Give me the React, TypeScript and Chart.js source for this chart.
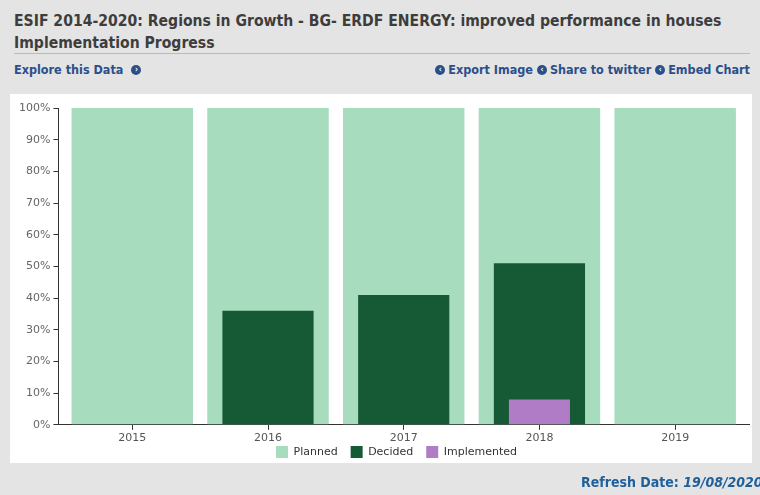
import React, { useEffect, useRef } from "react";
import { Chart, registerables } from "chart.js";

Chart.register(...registerables);

const categories = ["2015", "2016", "2017", "2018", "2019"];
const planned = [100, 100, 100, 100, 100];
const decided = [0, 36, 41, 51, 0];
const implemented = [0, 0, 0, 8, 0];
const yStep = 10;

const FONT = "'DejaVu Sans', Verdana, sans-serif";
const COND = "'DejaVu Sans Condensed', 'DejaVu Sans', sans-serif";

function Icon({ dir }: { dir: "left" | "right" }) {
  return (
    <span
      style={{
        display: "inline-block",
        width: 10,
        height: 10,
        borderRadius: 5,
        background: "#2b4f8a",
        color: "#fff",
        fontSize: 8,
        lineHeight: "10px",
        textAlign: "center",
        fontWeight: "bold",
        verticalAlign: "middle",
        marginRight: dir === "left" ? 3 : 0,
        marginLeft: dir === "right" ? 8 : 0,
        position: "relative",
        top: -1,
      }}
    >
      {dir === "left" ? "‹" : "›"}
    </span>
  );
}

const toPoints = (arr: number[]) => arr.map((y, i) => ({ x: i, y }));

// nudges the legend block closer to the axis labels (keeps wide item spacing)
const legendNudge = {
  id: "legendNudge",
  afterLayout(chart: any) {
    const lg = chart.legend;
    if (!lg) return;
    lg.top -= 14;
    lg.bottom -= 14;
    lg.left += 14;
    lg.right += 14;
  },
};

export default function App() {
  const ref = useRef<HTMLCanvasElement>(null);

  useEffect(() => {
    if (!ref.current) return;
    const chart = new Chart(ref.current, {
      type: "bar",
      data: {
        datasets: [
          {
            label: "Planned",
            data: toPoints(planned),
            backgroundColor: "#a8dcbf",
            categoryPercentage: 1,
            barPercentage: 0.895,
            grouped: false,
            order: 3,
          },
          {
            label: "Decided",
            data: toPoints(decided),
            backgroundColor: "#155a35",
            categoryPercentage: 1,
            barPercentage: 0.672,
            grouped: false,
            order: 2,
          },
          {
            label: "Implemented",
            data: toPoints(implemented),
            backgroundColor: "#b07cc6",
            categoryPercentage: 1,
            barPercentage: 0.45,
            grouped: false,
            order: 1,
          },
        ],
      },
      plugins: [legendNudge],
      options: {
        animation: false,
        responsive: true,
        maintainAspectRatio: false,
        layout: { padding: { top: 14, right: 3, left: 6, bottom: 0 } },
        plugins: {
          tooltip: { enabled: false },
          legend: {
            position: "bottom",
            labels: {
              boxWidth: 12,
              boxHeight: 12,
              padding: 13,
              color: "#333",
              font: { family: FONT, size: 11 },
              sort: (a: any, b: any) => a.datasetIndex - b.datasetIndex,
            },
          },
        },
        scales: {
          x: {
            type: "linear",
            offset: false,
            min: -0.544,
            max: categories.length - 1 + 0.544,
            afterBuildTicks: (axis: any) => {
              axis.ticks = categories.map((_, i) => ({ value: i }));
            },
            grid: {
              display: true,
              offset: false,
              drawOnChartArea: false,
              drawTicks: true,
              tickLength: 5,
              color: "#333",
            },
            border: { display: true, color: "#333", width: 1 },
            ticks: {
              color: "#555",
              font: { family: FONT, size: 11 },
              padding: 2,
              autoSkip: false,
              maxRotation: 0,
              callback: (v: any) => categories[Math.round(Number(v))] ?? "",
            },
          },
          y: {
            min: 0,
            max: 100,
            grid: {
              display: true,
              drawOnChartArea: false,
              drawTicks: true,
              tickLength: 5,
              color: "#333",
            },
            border: { display: true, color: "#333", width: 1 },
            ticks: {
              stepSize: yStep,
              color: "#666",
              font: { family: FONT, size: 11 },
              padding: 3,
              callback: (v: any) => v + "%",
            },
          },
        },
      },
    });
    return () => chart.destroy();
  }, []);

  return (
    <div
      style={{
        position: "absolute",
        left: 0,
        top: 0,
        width: 760,
        height: 495,
        background: "#e4e4e4",
        overflow: "hidden",
        fontFamily: FONT,
      }}
    >
      <div
        style={{
          position: "absolute",
          left: 14,
          top: 10,
          width: 745,
          fontSize: 15.6,
          fontWeight: "bold",
          color: "#3d3d3d",
          lineHeight: "22px",
          fontFamily: COND,
          whiteSpace: "nowrap",
        }}
      >
        ESIF 2014-2020: Regions in Growth - BG- ERDF ENERGY: improved performance in houses
        <br />
        Implementation Progress
      </div>
      <div
        style={{
          position: "absolute",
          left: 14,
          top: 53,
          width: 736,
          height: 1,
          background: "#9fc2d8",
        }}
      />
      <div
        style={{
          position: "absolute",
          left: 14,
          top: 62,
          fontSize: 12.5,
          fontWeight: "bold",
          color: "#2b4f8a",
          fontFamily: COND,
        }}
      >
        Explore this Data
        <Icon dir="right" />
      </div>
      <div
        style={{
          position: "absolute",
          right: 10,
          top: 62,
          fontSize: 12.5,
          fontWeight: "bold",
          color: "#2b4f8a",
          fontFamily: COND,
          whiteSpace: "nowrap",
        }}
      >
        <Icon dir="left" />Export Image <Icon dir="left" />Share to twitter <Icon dir="left" />Embed Chart
      </div>
      <div
        style={{
          position: "absolute",
          left: 10,
          top: 94,
          width: 742,
          height: 369,
          background: "#fff",
        }}
      />
      <div
        style={{
          position: "absolute",
          left: 10,
          top: 94,
          width: 742,
          height: 388,
        }}
      >
        <canvas ref={ref} />
      </div>
      <div
        style={{
          position: "absolute",
          left: 581,
          top: 474,
          fontSize: 14,
          fontWeight: "bold",
          color: "#1f5f9a",
          whiteSpace: "nowrap",
          fontFamily: COND,
        }}
      >
        Refresh Date: <i>19/08/2020</i>
      </div>
    </div>
  );
}
